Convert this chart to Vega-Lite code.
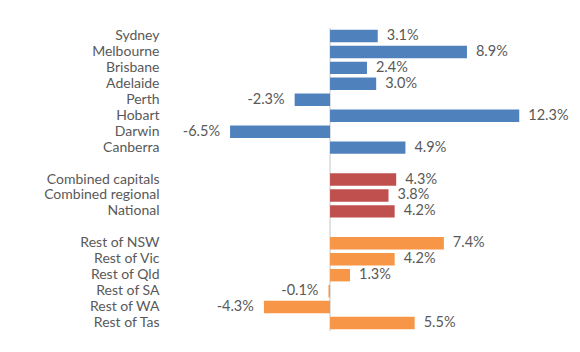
{
  "$schema": "https://vega.github.io/schema/vega-lite/v6.json",
  "width": 405,
  "height": 303,
  "autosize": "none",
  "padding": {"left": 165, "top": 28, "right": 10, "bottom": 21},
  "background": "white",
  "config": {"view": {"stroke": null}, "font": "Lato"},
  "data": {
    "values": [
      {"region": "Sydney", "group": "capital", "value": 0.031},
      {"region": "Melbourne", "group": "capital", "value": 0.089},
      {"region": "Brisbane", "group": "capital", "value": 0.024},
      {"region": "Adelaide", "group": "capital", "value": 0.030},
      {"region": "Perth", "group": "capital", "value": -0.023},
      {"region": "Hobart", "group": "capital", "value": 0.123},
      {"region": "Darwin", "group": "capital", "value": -0.065},
      {"region": "Canberra", "group": "capital", "value": 0.049},
      {"region": "Combined capitals", "group": "summary", "value": 0.043},
      {"region": "Combined regional", "group": "summary", "value": 0.038},
      {"region": "National", "group": "summary", "value": 0.042},
      {"region": "Rest of NSW", "group": "regional", "value": 0.074},
      {"region": "Rest of Vic", "group": "regional", "value": 0.042},
      {"region": "Rest of Qld", "group": "regional", "value": 0.013},
      {"region": "Rest of SA", "group": "regional", "value": -0.001},
      {"region": "Rest of WA", "group": "regional", "value": -0.043},
      {"region": "Rest of Tas", "group": "regional", "value": 0.055}
    ]
  },
  "layer": [
    {
      "data": {"values": [{}]},
      "mark": {"type": "rule", "color": "#d9d9d9", "strokeWidth": 1.5},
      "encoding": {
        "x": {"datum": 0, "type": "quantitative", "scale": {"domain": [-0.1073, 0.156], "nice": false}, "axis": null}
      }
    },
    {
      "mark": {"type": "bar"},
      "encoding": {
        "y": {
          "field": "region", "type": "nominal",
          "scale": {
            "domain": ["Sydney", "Melbourne", "Brisbane", "Adelaide", "Perth", "Hobart", "Darwin", "Canberra", "gap1", "Combined capitals", "Combined regional", "National", "gap2", "Rest of NSW", "Rest of Vic", "Rest of Qld", "Rest of SA", "Rest of WA", "Rest of Tas"],
            "paddingInner": 0.22, "paddingOuter": 0.11
          },
          "axis": {
            "title": null, "domain": false, "ticks": false, "labelPadding": 6,
            "labelColor": "#595959", "labelFontSize": 14, "labelFont": "Lato",
            "labelExpr": "indexof(datum.value, 'gap') == 0 ? '' : datum.value"
          }
        },
        "x": {"field": "value", "type": "quantitative", "scale": {"domain": [-0.1073, 0.156], "nice": false}, "axis": null},
        "color": {
          "field": "group", "type": "nominal",
          "scale": {"domain": ["capital", "summary", "regional"], "range": ["#4F81BD", "#C0504D", "#F79646"]},
          "legend": null
        }
      }
    },
    {
      "transform": [{"filter": "datum.value >= 0"}],
      "mark": {"type": "text", "align": "left", "baseline": "middle", "dx": 9, "fontSize": 14.5, "color": "#595959",
               "text": {"expr": "format(datum.value, '.1%')"}},
      "encoding": {
        "y": {"field": "region", "type": "nominal"},
        "x": {"field": "value", "type": "quantitative"}
      }
    },
    {
      "transform": [{"filter": "datum.value < 0"}],
      "mark": {"type": "text", "align": "right", "baseline": "middle", "dx": -10, "fontSize": 14.5, "color": "#595959",
               "text": {"expr": "replace(format(datum.value, '.1%'), '\u2212', '-')"}},
      "encoding": {
        "y": {"field": "region", "type": "nominal"},
        "x": {"field": "value", "type": "quantitative"}
      }
    }
  ]
}
